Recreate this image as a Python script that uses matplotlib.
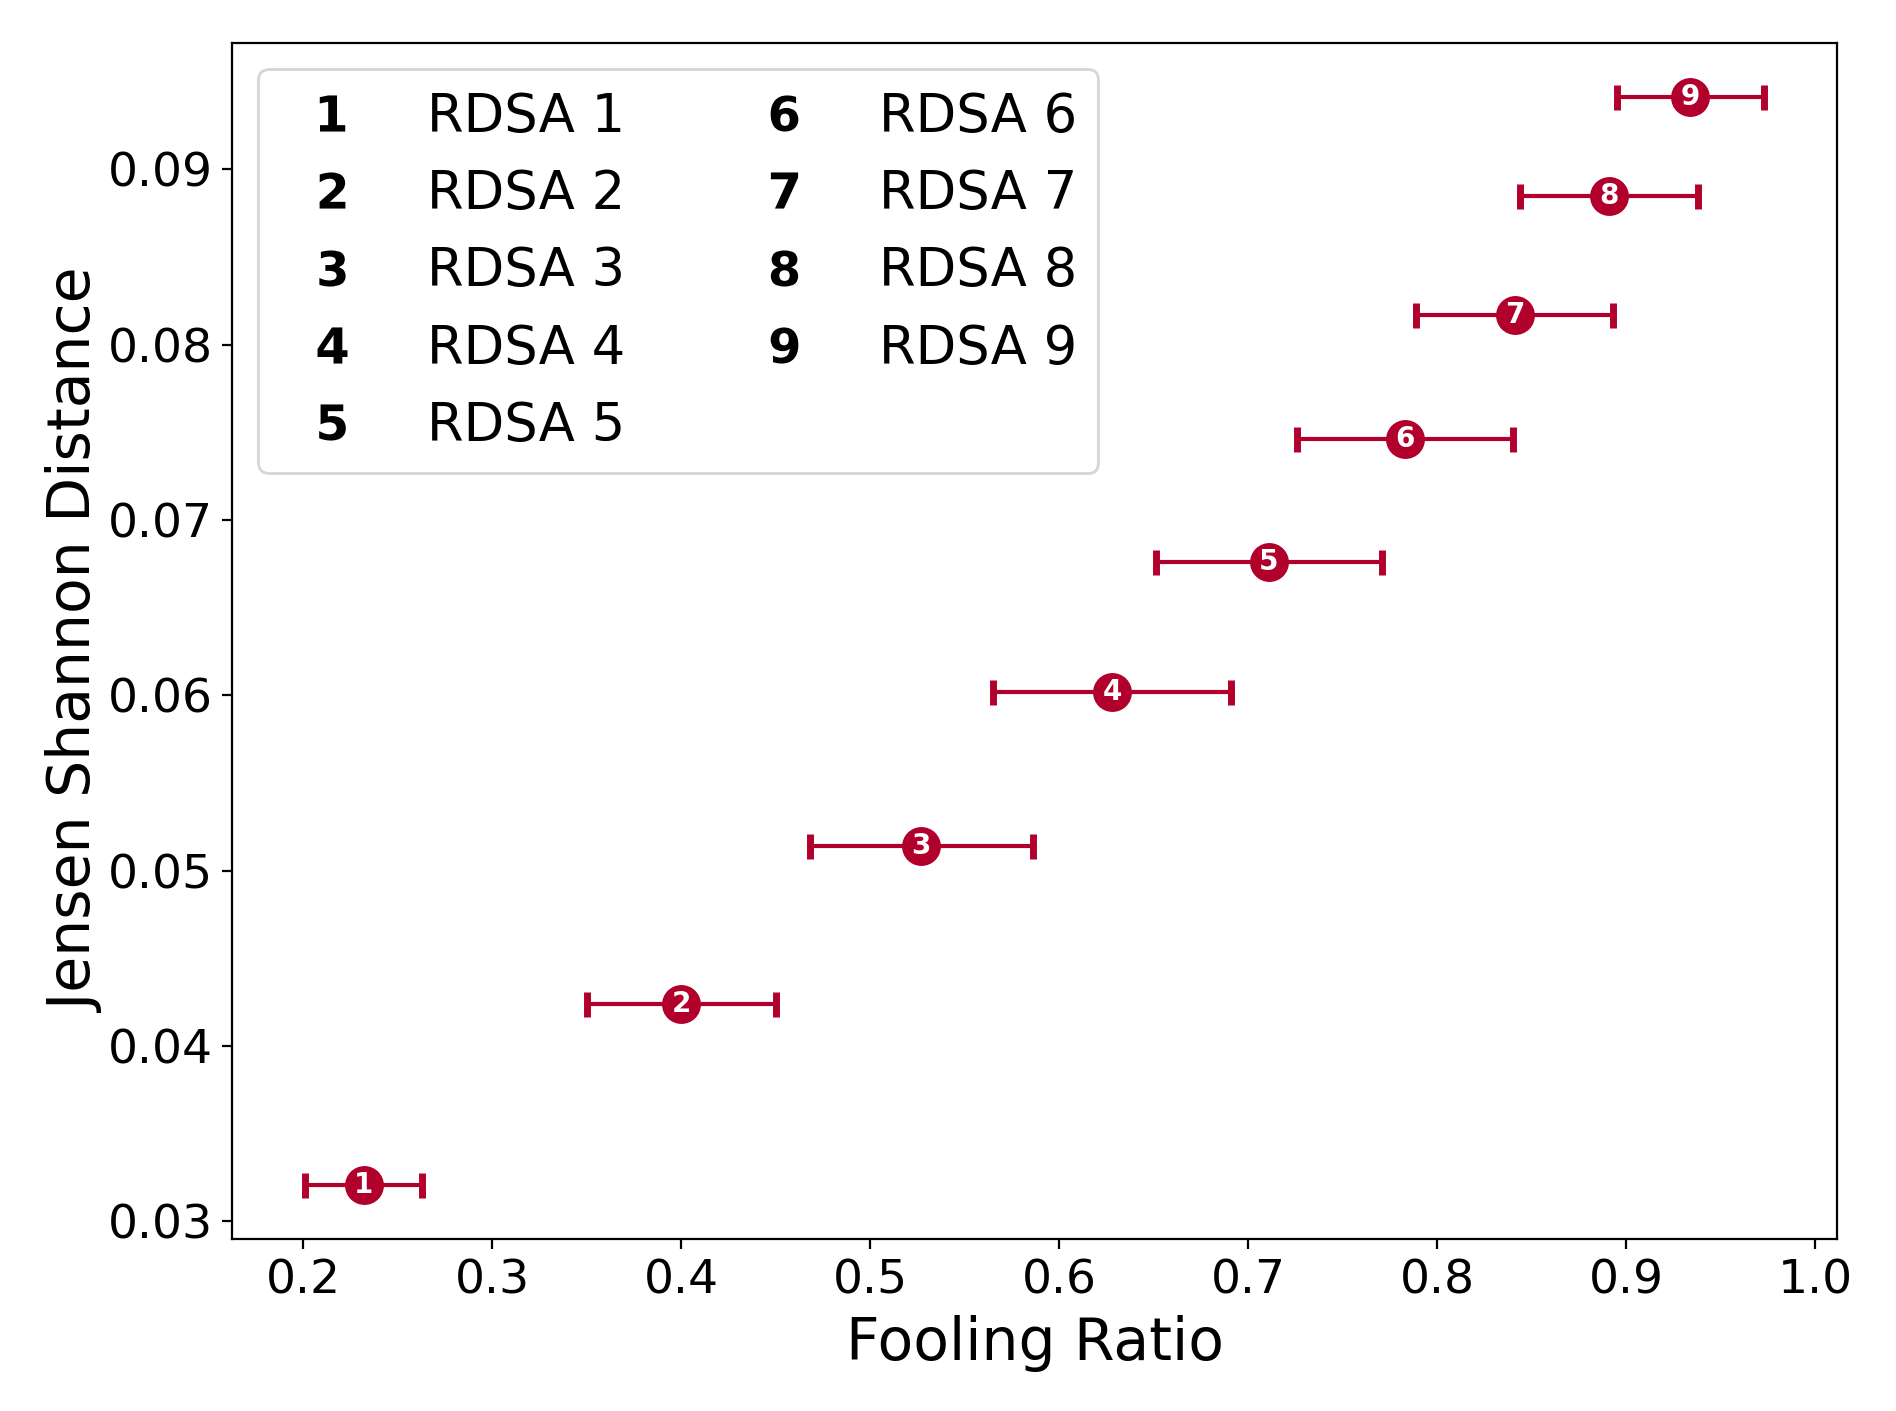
import matplotlib
matplotlib.use('Agg')
import matplotlib.pyplot as plt
from matplotlib.lines import Line2D

# Fooling ratio (x) vs Jensen Shannon distance (y) for each RDSA setting
labels = ['1', '2', '3', '4', '5', '6', '7', '8', '9']
names = ['RDSA 1', 'RDSA 2', 'RDSA 3', 'RDSA 4', 'RDSA 5',
         'RDSA 6', 'RDSA 7', 'RDSA 8', 'RDSA 9']
fooling_ratio = [0.232, 0.400, 0.527, 0.628, 0.711, 0.783, 0.841, 0.891, 0.934]
fooling_err = [0.031, 0.050, 0.059, 0.063, 0.060, 0.057, 0.052, 0.047, 0.039]
js_distance = [0.0321, 0.0424, 0.0514, 0.0602, 0.0676, 0.0746, 0.0817, 0.0885, 0.0941]

red = '#B2002D'

fig = plt.figure(figsize=(9.48, 7.055), dpi=200)
ax = fig.add_axes([0.1224, 0.1219, 0.8465, 0.8476])

ax.errorbar(fooling_ratio, js_distance, xerr=fooling_err, fmt='o', color=red,
            markersize=13, elinewidth=1.5, capsize=4.5, capthick=2.5)

for x, y, lab in zip(fooling_ratio, js_distance, labels):
    ax.text(x, y, lab, color='white', fontsize=10, fontweight='bold',
            ha='center', va='center')

ax.set_xlabel('Fooling Ratio', fontsize=21)
ax.set_ylabel('Jensen Shannon Distance', fontsize=21, labelpad=1)
ax.tick_params(labelsize=17)
ax.set_xticks([0.2, 0.3, 0.4, 0.5, 0.6, 0.7, 0.8, 0.9, 1.0])

# legend: bold number as the handle, name as the label
handles = [Line2D([], [], linestyle='none', color='black', markeredgewidth=0,
                  marker=r'$\mathbf{' + lab + '}$', markersize=13)
           for lab in labels]
ax.legend(handles, names, loc='upper left', ncol=2, fontsize=19,
          columnspacing=2.0, labelspacing=0.48)

fig.savefig('out.png', dpi=200)
